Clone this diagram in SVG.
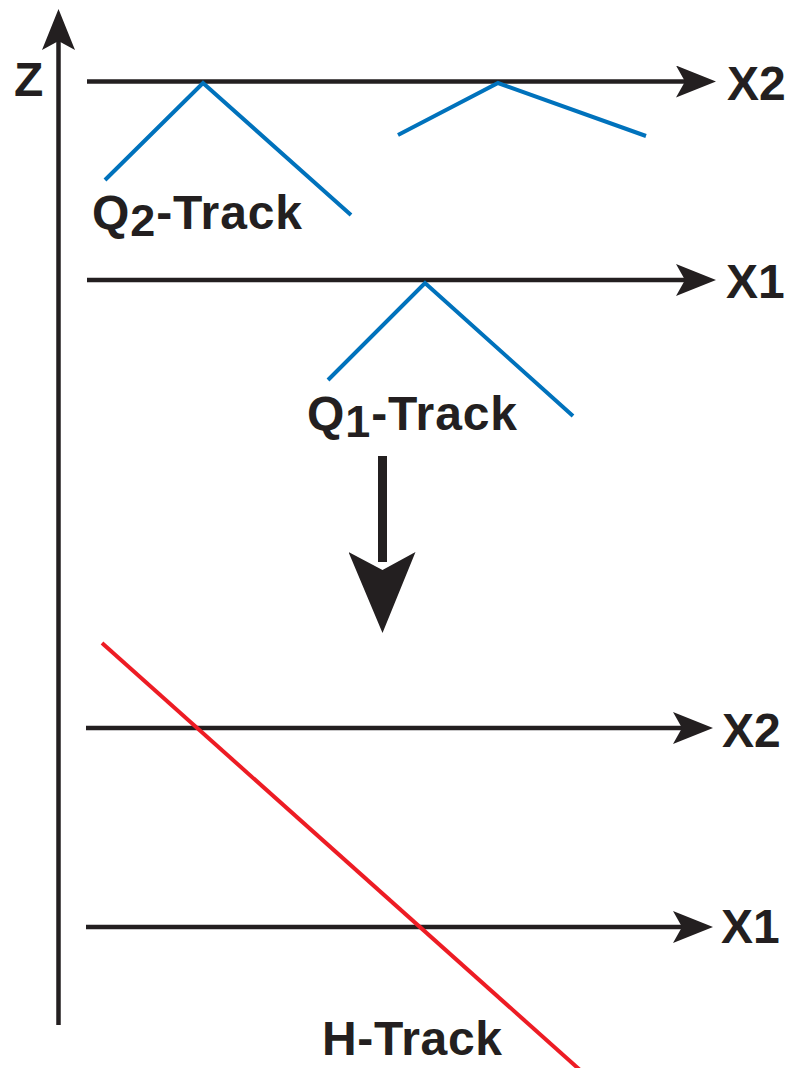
<svg xmlns="http://www.w3.org/2000/svg" width="788" height="1068" viewBox="0 0 788 1068">
  <defs>
    <style>
      .axis { stroke: #231F20; stroke-width: 4.5; fill: none; }
      .blue { stroke: #0072BC; stroke-width: 4; fill: none; stroke-linejoin: miter; }
      .red { stroke: #ED1C24; stroke-width: 4; fill: none; }
      .lbl { font-family: "Liberation Sans", Arial, sans-serif; font-weight: bold; font-size: 48px; fill: #231F20; }
      .sub { font-size: 45px; }
    </style>
    <marker id="ah" markerUnits="userSpaceOnUse" viewBox="0 0 40 32" refX="30" refY="16" markerWidth="40" markerHeight="32" orient="auto">
      <path d="M0,0 L40,16 L0,32 L9,16 Z" fill="#231F20"/>
    </marker>
    <marker id="bigah" markerUnits="userSpaceOnUse" viewBox="0 0 68 82" refX="34" refY="10" markerWidth="68" markerHeight="82" orient="0">
      <path d="M0,0 L34,18 L67,0 L34,81 Z" fill="#231F20"/>
    </marker>
  </defs>
  <rect width="788" height="1068" fill="#FFFFFF"/>

  <g id="connectors">
    <line id="z-axis" class="axis" x1="58.5" y1="1025" x2="58.5" y2="38"/>
    <path id="z-arrowhead" d="M58.5,9 L75,50 L58.5,41 L42,50 Z" fill="#231F20"/>
    <line class="axis" x1="87" y1="81.5" x2="706" y2="81.5" marker-end="url(#ah)"/>
    <line class="axis" x1="87" y1="280" x2="706" y2="280" marker-end="url(#ah)"/>
    <line class="axis" x1="86" y1="728" x2="703" y2="728" marker-end="url(#ah)"/>
    <line class="axis" x1="86" y1="927" x2="703" y2="927" marker-end="url(#ah)"/>
    <line x1="382.5" y1="456" x2="382.5" y2="562" stroke="#231F20" stroke-width="9" marker-end="url(#bigah)"/>
  </g>

  <g id="q2-track">
    <polyline class="blue" points="105,180 203,83 351,215"/>
    <polyline class="blue" points="398,135 498,83 646,136"/>
    <text class="lbl" x="92" y="229" textLength="210" lengthAdjust="spacing">Q<tspan class="sub" dy="7">2</tspan><tspan dy="-7">-Track</tspan></text>
  </g>

  <g id="q1-track">
    <polyline class="blue" points="328,380 425,283 573,416"/>
    <text class="lbl" x="307" y="430" textLength="210" lengthAdjust="spacing">Q<tspan class="sub" dy="7">1</tspan><tspan dy="-7">-Track</tspan></text>
  </g>

  <g id="h-track">
    <line class="red" x1="102" y1="643" x2="580" y2="1070"/>
    <text class="lbl" x="322" y="1055" textLength="180" lengthAdjust="spacing">H-Track</text>
  </g>

  <g id="labels">
    <text id="z-label" class="lbl" x="14" y="96">Z</text>
    <text class="lbl" x="727" y="100">X2</text>
    <text class="lbl" x="726" y="298">X1</text>
    <text class="lbl" x="722" y="747">X2</text>
    <text class="lbl" x="721" y="943">X1</text>
  </g>
</svg>
